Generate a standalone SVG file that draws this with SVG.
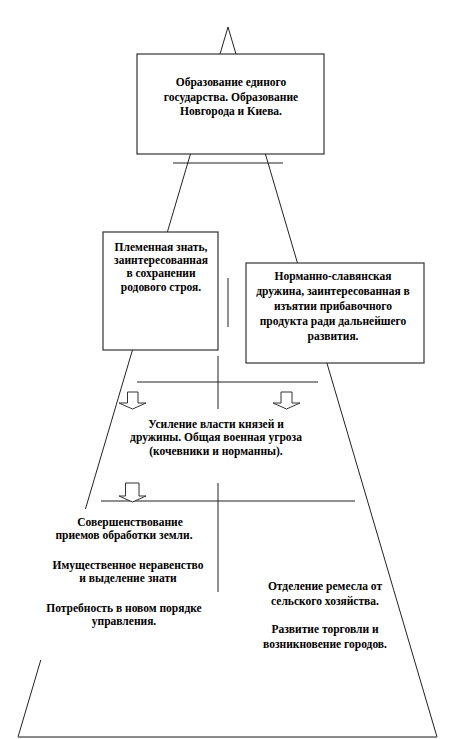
<svg xmlns="http://www.w3.org/2000/svg" width="474" height="739" viewBox="0 0 474 739">
<style>
.ln{stroke:#222;stroke-width:1;fill:none}
.box{fill:#fff;stroke:#333;stroke-width:1.2}
.t{font-family:"Liberation Serif","Times New Roman",serif;font-weight:bold;font-size:11.5px;fill:#000;text-anchor:middle}
.arr{fill:#fff;stroke:#333;stroke-width:1}
</style>
<rect width="474" height="739" fill="#fff"/>
<g id="connectors">
<polyline class="ln" points="18,737 228,27 437,737"/>
<line x1="18" y1="737" x2="437" y2="737" stroke="#666" stroke-width="1.6"/>
<rect x="30" y="509" width="150" height="151" fill="#fff"/>
<line class="ln" x1="173" y1="163" x2="283" y2="163"/>
<line class="ln" x1="228" y1="278" x2="228" y2="327"/>
<line class="ln" x1="218" y1="356" x2="218" y2="409"/>
<line class="ln" x1="137" y1="382" x2="318" y2="382"/>
<line class="ln" x1="218" y1="483" x2="218" y2="592"/>
<line class="ln" x1="101" y1="501" x2="355" y2="501"/>
<polygon class="arr" points="127.5,392 138,392 138,403 146,403 132.5,409 119,403 127.5,403"/>
<polygon class="arr" points="281,392 292,392 292,403 300,403 286.5,409 273,403 281,403"/>
<polygon class="arr" points="125.5,483 139,483 139,496 146,496 132.5,502 119,496 125.5,496"/>
</g>
<g id="node-top">
<rect class="box" x="137" y="54" width="187" height="100"/>
<text class="t" x="231" y="86">Образование единого</text>
<text class="t" x="231" y="101">государства. Образование</text>
<text class="t" x="231" y="115">Новгорода и Киева.</text>
</g>
<g id="node-left">
<rect class="box" x="103" y="232" width="115" height="118"/>
<text class="t" x="161" y="251">Племенная знать,</text>
<text class="t" x="161" y="264">заинтересованная</text>
<text class="t" x="161" y="277">в сохранении</text>
<text class="t" x="161" y="291">родового строя.</text>
</g>
<g id="node-right">
<rect class="box" x="246" y="263" width="178" height="100"/>
<text class="t" x="333" y="280">Норманно-славянская</text>
<text class="t" x="333" y="295">дружина, заинтересованная в</text>
<text class="t" x="333" y="310">изъятии прибавочного</text>
<text class="t" x="333" y="325">продукта ради дальнейшего</text>
<text class="t" x="333" y="340">развития.</text>
</g>
<g id="node-center">
<text class="t" x="216" y="428">Усиление власти князей и</text>
<text class="t" x="216" y="441">дружины. Общая военная угроза</text>
<text class="t" x="216" y="455">(кочевники и норманны).</text>
</g>
<g id="node-bottom-left">
<text class="t" x="130" y="526">Совершенствование</text>
<text class="t" x="124" y="539">приемов обработки земли.</text>
<text class="t" x="128" y="569">Имущественное неравенство</text>
<text class="t" x="128" y="582">и выделение знати</text>
<text class="t" x="124" y="612">Потребность в новом порядке</text>
<text class="t" x="124" y="625">управления.</text>
</g>
<g id="node-bottom-right">
<text class="t" x="325" y="590">Отделение ремесла от</text>
<text class="t" x="325" y="605">сельского хозяйства.</text>
<text class="t" x="325" y="633">Развитие торговли и</text>
<text class="t" x="325" y="648">возникновение городов.</text>
</g>
</svg>
